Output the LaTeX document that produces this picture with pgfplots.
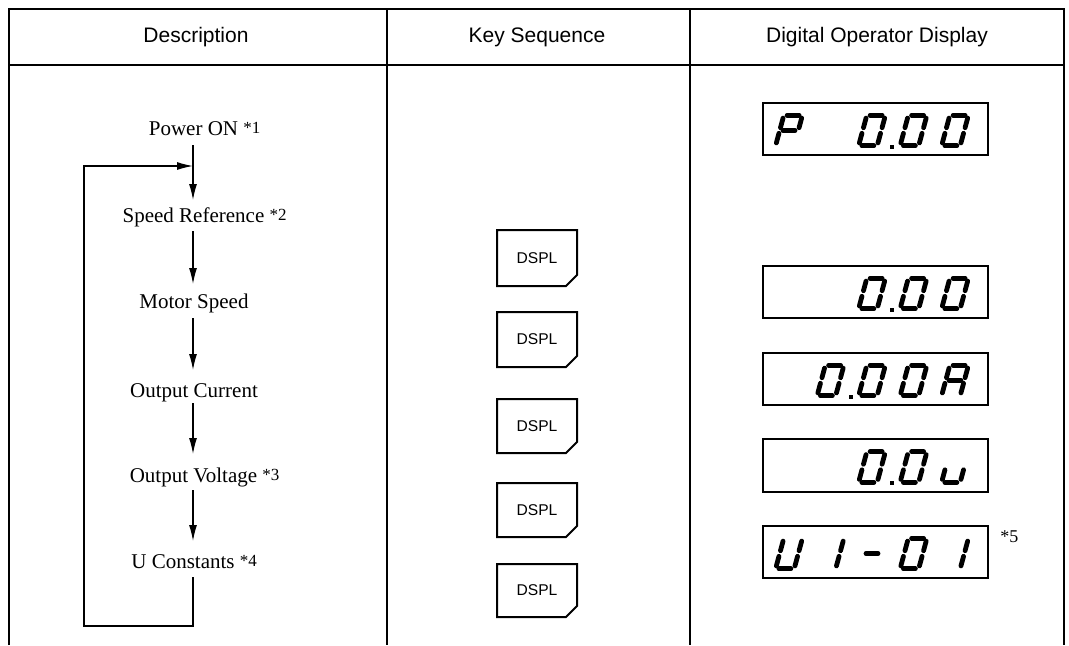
\documentclass[border=0pt]{standalone}
\usepackage{fontspec}
\setmainfont{Liberation Serif}
\newfontfamily\arial{Liberation Sans}
\usepackage{pgfplots}
\pgfplotsset{compat=1.18}
\usetikzlibrary{calc,arrows.meta}

% one segment of a slanted seven-segment digit; local units are pixels (0.5pt), v downward
\newcommand\seg[6]{\draw[line width=2.4pt,line cap=round]
 ($(axis cs:#1,#2)+({0.5*((#3)-0.27*(#4))*1pt},{-0.5*(#4)*1pt})$) --
 ($(axis cs:#1,#2)+({0.5*((#5)-0.27*(#6))*1pt},{-0.5*(#6)*1pt})$);}
\newcommand\segA[2]{\seg{#1}{#2}{-6}{-15.3}{6}{-15.3}}
\newcommand\segB[2]{\seg{#1}{#2}{9.3}{-12.4}{9.3}{-2.8}}
\newcommand\segC[2]{\seg{#1}{#2}{9.3}{2.8}{9.3}{12.4}}
\newcommand\segD[2]{\seg{#1}{#2}{-6}{15.3}{6}{15.3}}
\newcommand\segE[2]{\seg{#1}{#2}{-9.3}{2.8}{-9.3}{12.4}}
\newcommand\segF[2]{\seg{#1}{#2}{-9.3}{-12.4}{-9.3}{-2.8}}
\newcommand\segG[2]{\seg{#1}{#2}{-6}{0}{6}{0}}
\newcommand\dZero[2]{\segA{#1}{#2}\segB{#1}{#2}\segC{#1}{#2}\segD{#1}{#2}\segE{#1}{#2}\segF{#1}{#2}}
\newcommand\dP[2]{\segA{#1}{#2}\segB{#1}{#2}\segE{#1}{#2}\segF{#1}{#2}\segG{#1}{#2}}
\newcommand\dA[2]{\segA{#1}{#2}\segB{#1}{#2}\segC{#1}{#2}\segE{#1}{#2}\segF{#1}{#2}\segG{#1}{#2}}
\newcommand\du[2]{\segC{#1}{#2}\segD{#1}{#2}\segE{#1}{#2}}
\newcommand\dU[2]{\segB{#1}{#2}\segC{#1}{#2}\segD{#1}{#2}\segE{#1}{#2}\segF{#1}{#2}}
\newcommand\dOne[2]{\segB{#1}{#2}\segC{#1}{#2}}
\newcommand\dMinus[2]{\segG{#1}{#2}}
\newcommand\dDot[2]{\fill ($(axis cs:#1,#2)+(9pt,-7.2pt)$) rectangle ++(2pt,-2pt);}
\newcommand\sups[1]{\raisebox{1pt}{\fontsize{8.5}{9}\selectfont *#1}}
\newcommand\dspl[2]{\draw[line width=1pt] (axis cs:497,#1) -- (axis cs:577,#1) -- (axis cs:577,#2-11) -- (axis cs:566,#2) -- (axis cs:497,#2) -- cycle;
 \node[font=\arial\fontsize{7.8}{9}\selectfont,anchor=center] at (axis cs:537,{(#1+#2)/2}) {DSPL};}
\newcommand\disp[2]{\draw[line width=0.6pt] (axis cs:763,#1) rectangle (axis cs:988,#2);}

\begin{document}
\begin{tikzpicture}[font=\fontsize{10.5}{12}\selectfont]
\begin{axis}[scale only axis, width=534.5pt, height=322.5pt,
  xmin=0, xmax=1069, ymin=0, ymax=645, y dir=reverse,
  hide axis, clip=false]
\path (axis cs:0,0) rectangle (axis cs:1069,645);
% table frame
\draw[line width=0.55pt] (axis cs:9,645) -- (axis cs:9,9) -- (axis cs:1064,9) -- (axis cs:1064,645);
\draw[line width=0.55pt] (axis cs:9,65) -- (axis cs:1064,65);
\draw[line width=0.55pt] (axis cs:387,9) -- (axis cs:387,645);
\draw[line width=0.55pt] (axis cs:690,9) -- (axis cs:690,645);
% headers
\node[anchor=base,inner sep=0,font=\arial\fontsize{10.5}{12}\selectfont] at (axis cs:196,42) {Description};
\node[anchor=base,inner sep=0,font=\arial\fontsize{10.5}{12}\selectfont] at (axis cs:537,42) {Key Sequence};
\node[anchor=base,inner sep=0,font=\arial\fontsize{10.5}{12}\selectfont] at (axis cs:877,42) {Digital Operator Display};
% description column
\node[anchor=base,inner sep=0] at (axis cs:193.5,135) {Power ON\rlap{\ \sups{1}}};
\node[anchor=base,inner sep=0] at (axis cs:193.5,222) {Speed Reference\rlap{\ \sups{2}}};
\node[anchor=base,inner sep=0] at (axis cs:194,308) {Motor Speed};
\node[anchor=base,inner sep=0] at (axis cs:194,397) {Output Current};
\node[anchor=base,inner sep=0] at (axis cs:193.5,482) {Output Voltage\rlap{\ \sups{3}}};
\node[anchor=base,inner sep=0] at (axis cs:183,568) {U Constants\rlap{\ \sups{4}}};
\tikzset{arr/.style={line width=0.6pt,-{Latex[length=8pt,width=4pt]}}}
\draw[arr] (axis cs:193,145) -- (axis cs:193,200);
\draw[arr] (axis cs:193,231) -- (axis cs:193,284);
\draw[arr] (axis cs:193,318) -- (axis cs:193,370);
\draw[arr] (axis cs:193,403) -- (axis cs:193,454);
\draw[arr] (axis cs:193,490) -- (axis cs:193,541);
\draw[arr] (axis cs:193,577) -- (axis cs:193,626) -- (axis cs:84,626) -- (axis cs:84,166) -- (axis cs:193,166);
% key sequence column
\dspl{230}{286}
\dspl{312}{367}
\dspl{399}{453}
\dspl{483}{537}
\dspl{564}{617}
% digital operator display column
\disp{103}{155}
\dP{789}{130.5} \dZero{872}{130.5}\dDot{872}{130.5} \dZero{913.5}{130.5} \dZero{955}{130.5}
\disp{266}{318}
\dZero{872}{293.5}\dDot{872}{293.5} \dZero{913.5}{293.5} \dZero{955}{293.5}
\disp{353}{405}
\dZero{830.5}{380.5}\dDot{830.5}{380.5} \dZero{872}{380.5} \dZero{913.5}{380.5} \dA{955}{380.5}
\disp{439}{492}
\dZero{872}{467}\dDot{872}{467} \dZero{913.5}{467} \du{955}{467}
\disp{526}{578}
\dU{789}{553.5} \dOne{830.5}{553.5} \dMinus{872}{553.5} \dZero{913.5}{553.5} \dOne{955}{553.5}
\node[anchor=base west,inner sep=0,font=\fontsize{9}{10}\selectfont] at (axis cs:1000,542) {*5};
\end{axis}
\end{tikzpicture}
\end{document}
